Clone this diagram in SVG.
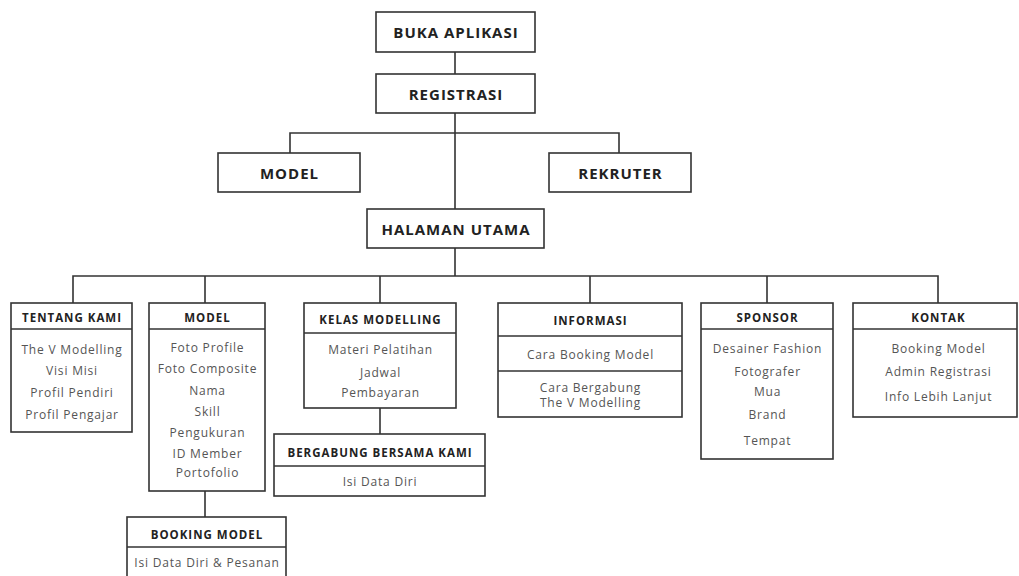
<svg xmlns="http://www.w3.org/2000/svg" width="1019" height="576" viewBox="0 0 1019 576">
<style>
.box{fill:#fff;stroke:#333;stroke-width:1.6}
.div{stroke:#333;stroke-width:1.4}
.ln{stroke:#333;stroke-width:1.6;fill:none}
.t1{font-family:"Open Sans","DejaVu Sans",sans-serif;font-weight:bold;font-size:15px;letter-spacing:1px;fill:#222;text-anchor:middle;dominant-baseline:central}
.th{font-family:"Open Sans","DejaVu Sans",sans-serif;font-weight:bold;font-size:11.5px;letter-spacing:1px;fill:#222;text-anchor:middle;dominant-baseline:central}
.ti{font-family:"Open Sans","DejaVu Sans",sans-serif;font-size:12px;letter-spacing:0.8px;fill:#555;text-anchor:middle;dominant-baseline:central}
</style>
<rect width="1019" height="576" fill="#fff"/>
<g id="connectors">
<path class="ln" d="M455 52V74M455 113V209M290 153V133H619V153M455 248V276M73 303V276H938V303M205 276V303M380 276V303M590 276V303M767 276V303M205 491V517M380 408V434"/>
</g>
<g id="buka"><rect class="box" x="376" y="12" width="159" height="40"/><text class="t1" x="456" y="32">BUKA APLIKASI</text></g>
<g id="registrasi"><rect class="box" x="376" y="74" width="159" height="39"/><text class="t1" x="456" y="94">REGISTRASI</text></g>
<g id="model-top"><rect class="box" x="218" y="153" width="142" height="39"/><text class="t1" x="289.5" y="173">MODEL</text></g>
<g id="rekruter"><rect class="box" x="549" y="153" width="142" height="39"/><text class="t1" x="620.5" y="173">REKRUTER</text></g>
<g id="halaman"><rect class="box" x="367" y="209" width="177" height="39"/><text class="t1" x="456" y="229">HALAMAN UTAMA</text></g>
<g id="tentang"><rect class="box" x="11" y="303" width="121" height="129"/><line class="div" x1="11" y1="329" x2="132" y2="329"/>
<text class="th" x="72" y="317">TENTANG KAMI</text>
<text class="ti" x="72" y="349">The V Modelling</text><text class="ti" x="72" y="370">Visi Misi</text><text class="ti" x="72" y="392">Profil Pendiri</text><text class="ti" x="72" y="414">Profil Pengajar</text></g>
<g id="model"><rect class="box" x="149" y="303" width="116" height="188"/><line class="div" x1="149" y1="329" x2="265" y2="329"/>
<text class="th" x="207.5" y="317">MODEL</text>
<text class="ti" x="207.5" y="347">Foto Profile</text><text class="ti" x="207.5" y="368">Foto Composite</text><text class="ti" x="207.5" y="390">Nama</text><text class="ti" x="207.5" y="411">Skill</text><text class="ti" x="207.5" y="432">Pengukuran</text><text class="ti" x="207.5" y="453">ID Member</text><text class="ti" x="207.5" y="472">Portofolio</text></g>
<g id="booking"><rect class="box" x="127" y="517" width="159" height="70"/><line class="div" x1="127" y1="547" x2="286" y2="547"/>
<text class="th" x="207" y="534">BOOKING MODEL</text>
<text class="ti" x="207" y="562">Isi Data Diri &amp; Pesanan</text></g>
<g id="kelas"><rect class="box" x="304" y="303" width="152" height="105"/><line class="div" x1="304" y1="333" x2="456" y2="333"/>
<text class="th" x="380.5" y="319">KELAS MODELLING</text>
<text class="ti" x="380.5" y="349">Materi Pelatihan</text><text class="ti" x="380.5" y="372">Jadwal</text><text class="ti" x="380.5" y="392">Pembayaran</text></g>
<g id="bergabung"><rect class="box" x="274" y="434" width="211" height="62"/><line class="div" x1="274" y1="466" x2="485" y2="466"/>
<text class="th" x="380" y="452">BERGABUNG BERSAMA KAMI</text>
<text class="ti" x="380" y="481">Isi Data Diri</text></g>
<g id="informasi"><rect class="box" x="498" y="303" width="184" height="114"/><line class="div" x1="498" y1="336" x2="682" y2="336"/><line class="div" x1="498" y1="371" x2="682" y2="371"/>
<text class="th" x="590.5" y="320">INFORMASI</text>
<text class="ti" x="590.5" y="354">Cara Booking Model</text><text class="ti" x="590.5" y="387">Cara Bergabung</text><text class="ti" x="590.5" y="402">The V Modelling</text></g>
<g id="sponsor"><rect class="box" x="701" y="303" width="132" height="156"/><line class="div" x1="701" y1="329" x2="833" y2="329"/>
<text class="th" x="767.5" y="317">SPONSOR</text>
<text class="ti" x="767.5" y="348">Desainer Fashion</text><text class="ti" x="767.5" y="371">Fotografer</text><text class="ti" x="767.5" y="391">Mua</text><text class="ti" x="767.5" y="414">Brand</text><text class="ti" x="767.5" y="440">Tempat</text></g>
<g id="kontak"><rect class="box" x="853" y="303" width="164" height="114"/><line class="div" x1="853" y1="329" x2="1017" y2="329"/>
<text class="th" x="938.5" y="317">KONTAK</text>
<text class="ti" x="938.5" y="348">Booking Model</text><text class="ti" x="938.5" y="371">Admin Registrasi</text><text class="ti" x="938.5" y="396">Info Lebih Lanjut</text></g>
</svg>
